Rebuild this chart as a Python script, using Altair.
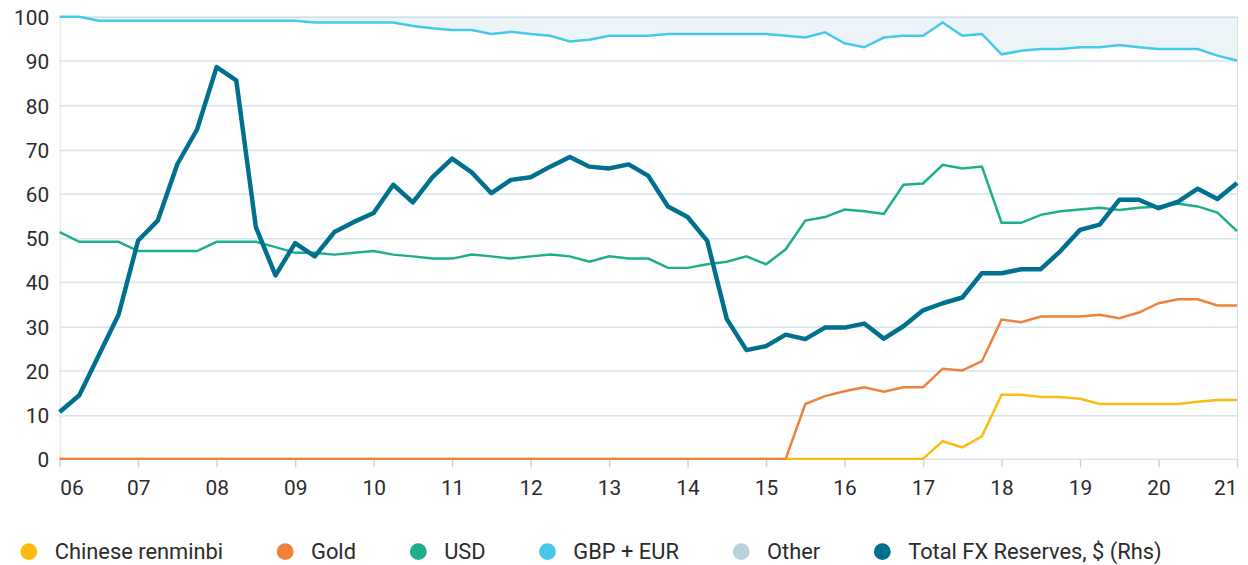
import altair as alt
import pandas as pd

# quarterly observations, 2006 Q1 .. 2021 Q1
quarters = [2006 + i / 4 for i in range(61)]

# cumulative shares (%)
renminbi = [0] * 45 + [4.0, 2.6, 5.1, 14.5, 14.5, 14.0, 14.0, 13.6, 12.4, 12.4,
                       12.4, 12.4, 12.4, 12.9, 13.3, 13.3]
gold = [0] * 38 + [12.4, 14.2, 15.3, 16.2, 15.2, 16.2, 16.2, 20.4, 20.0, 22.1,
                   31.5, 30.9, 32.2, 32.2, 32.2, 32.6, 31.8, 33.1, 35.2, 36.1,
                   36.1, 34.7, 34.7]
usd = [51.3, 49.1, 49.1, 49.1, 47.0, 47.0, 47.0, 47.0, 49.1, 49.1,
       49.1, 47.9, 46.6, 46.6, 46.2, 46.6, 47.0, 46.2, 45.8, 45.3,
       45.3, 46.2, 45.8, 45.3, 45.8, 46.2, 45.8, 44.6, 45.8, 45.3,
       45.3, 43.2, 43.2, 44.0, 44.6, 45.8, 44.0, 47.4, 53.9, 54.7,
       56.4, 56.0, 55.4, 62.0, 62.3, 66.5, 65.7, 66.1, 53.4, 53.4,
       55.2, 56.0, 56.4, 56.8, 56.3, 56.8, 57.1, 57.7, 57.1, 55.7,
       51.5]
gbp_eur = [100, 100, 99.1, 99.1, 99.1, 99.1, 99.1, 99.1, 99.1, 99.1,
           99.1, 99.1, 99.1, 98.7, 98.7, 98.7, 98.7, 98.7, 97.9, 97.4,
           97.0, 97.0, 96.1, 96.6, 96.1, 95.7, 94.4, 94.8, 95.7, 95.7,
           95.7, 96.1, 96.1, 96.1, 96.1, 96.1, 96.1, 95.7, 95.3, 96.5,
           94.0, 93.1, 95.3, 95.7, 95.7, 98.7, 95.7, 96.1, 91.5, 92.3,
           92.7, 92.7, 93.1, 93.1, 93.6, 93.1, 92.7, 92.7, 92.7, 91.2,
           90.1]
total_fx = [10.6, 14.4, 23.5, 32.6, 49.4, 53.9, 66.7, 74.5, 88.6, 85.6,
            52.4, 41.5, 48.8, 45.8, 51.3, 53.6, 55.6, 62.0, 58.0, 63.7,
            67.9, 64.8, 60.1, 63.1, 63.7, 66.1, 68.3, 66.1, 65.7, 66.6,
            64.0, 57.1, 54.7, 49.3, 31.6, 24.6, 25.5, 28.1, 27.1, 29.7,
            29.7, 30.6, 27.2, 30.0, 33.6, 35.2, 36.5, 42.0, 42.0, 42.9,
            42.9, 47.0, 51.8, 53.0, 58.6, 58.6, 56.7, 58.2, 61.1, 58.8,
            62.4]

series_names = ["Chinese renminbi", "Gold", "USD", "GBP + EUR", "Other",
                "Total FX Reserves, $ (Rhs)"]
series_colors = ["#FDBB12", "#F0813D", "#1DAE8B", "#45C9E8", "#B9D2DE", "#00708F"]
year_ticks = list(range(2006, 2022))

FONT = "Roboto"
TXT = "#2b2b2b"

wide = pd.DataFrame({"t": quarters, "gbp": gbp_eur})
line_names = ["Chinese renminbi", "Gold", "USD", "GBP + EUR",
              "Total FX Reserves, $ (Rhs)"]
long = pd.DataFrame({
    "t": quarters * 5,
    "series": sum([[n] * len(quarters) for n in line_names], []),
    "value": renminbi + gold + usd + gbp_eur + total_fx,
})

x_enc = alt.X(
    "t:Q",
    scale=alt.Scale(domain=[2006, 2021], nice=False, zero=False),
    axis=alt.Axis(
        values=year_ticks, labelExpr="slice(toString(datum.value), 2)",
        grid=False, domain=False, ticks=True, tickSize=8, tickWidth=1.5,
        tickColor="#C3D7E3", labelFont=FONT, labelFontSize=21,
        labelColor=TXT, labelPadding=11, title=None,
    ),
)
y_scale = alt.Scale(domain=[0, 100], nice=False)
y_axis = alt.Axis(
    values=list(range(0, 101, 10)), grid=True, gridColor="#D5E4EE",
    gridWidth=1.5, domain=False, ticks=False, labelFont=FONT,
    labelFontSize=21, labelColor=TXT, labelPadding=11, labelOffset=2,
    title=None,
)

color_enc = alt.Color(
    "series:N",
    scale=alt.Scale(domain=series_names, range=series_colors),
    legend=alt.Legend(
        title=None, orient="none", legendX=-42, legendY=527,
        direction="horizontal", columns=6, symbolType="circle",
        symbolSize=72, symbolStrokeWidth=8.5, symbolOpacity=1,
        labelFont=FONT, labelFontSize=22, labelColor=TXT, labelOffset=15,
        columnPadding=40, labelLimit=400,
    ),
)

other_area = alt.Chart(wide).mark_area(color="#B9D2DE", opacity=0.25).encode(
    x=x_enc,
    y=alt.Y("gbp:Q", scale=y_scale, axis=y_axis),
    y2=alt.datum(100),
)

layers = [other_area]
for name in ["Chinese renminbi", "Gold", "USD", "GBP + EUR"]:
    layers.append(
        alt.Chart(long).transform_filter(alt.datum.series == name)
        .mark_line(strokeWidth=2.5)
        .encode(x=x_enc, y=alt.Y("value:Q", scale=y_scale, axis=y_axis),
                color=color_enc)
    )
layers.append(
    alt.Chart(long).transform_filter(alt.datum.series == "Total FX Reserves, $ (Rhs)")
    .mark_line(strokeWidth=4.5, strokeJoin="round")
    .encode(x=x_enc, y=alt.Y("value:Q", scale=y_scale, axis=y_axis),
            color=color_enc)
)

chart = alt.layer(*layers).properties(
    width=1185, height=445,
    autosize=alt.AutoSizeParams(type="none"),
    padding={"left": 52, "top": 7, "right": 3, "bottom": 105},
).configure_view(stroke=None).configure(background="white")

chart.save("out.html", embed_options={"renderer": "svg", "actions": False})
